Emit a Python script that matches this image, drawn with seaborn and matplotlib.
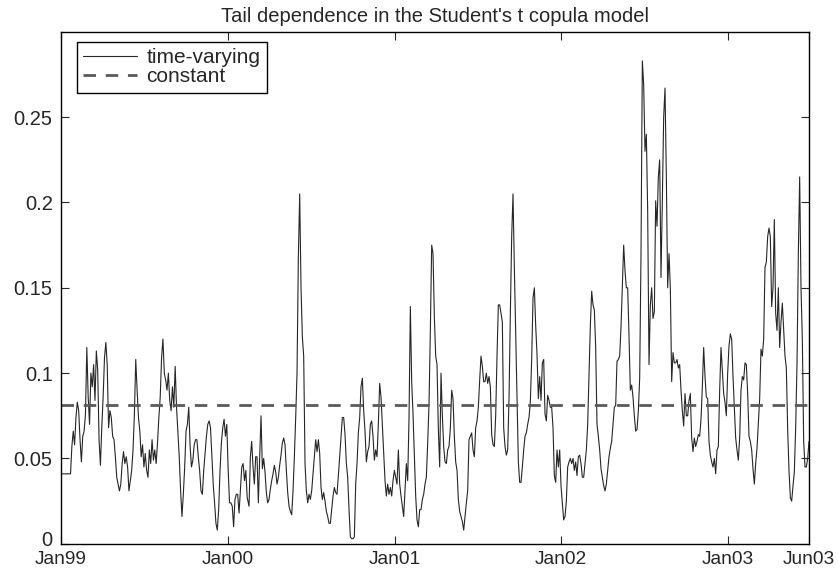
import numpy as np
import pandas as pd
import seaborn as sns
import matplotlib.pyplot as plt
import matplotlib.transforms as mtransforms

# Estimated tail dependence
# part 1: Jan 1999 -> mid Feb 2000
tail_part1 = [
    0.041, 0.041, 0.041, 0.041, 0.041, 0.041, 0.041, 0.041,
    0.057, 0.066, 0.058, 0.074, 0.083, 0.078, 0.061, 0.048, 0.063, 0.066,
    0.076, 0.115, 0.086, 0.070, 0.100, 0.092, 0.105, 0.084, 0.113, 0.102,
    0.061, 0.046, 0.068, 0.086, 0.109, 0.118, 0.105, 0.068, 0.078, 0.074,
    0.063, 0.061, 0.051, 0.039, 0.035, 0.031, 0.035, 0.047, 0.054, 0.047,
    0.051, 0.045, 0.031, 0.037, 0.043, 0.055, 0.076, 0.108, 0.090, 0.074,
    0.066, 0.051, 0.058, 0.045, 0.053, 0.043, 0.039, 0.055, 0.047, 0.061,
    0.049, 0.055, 0.047, 0.059, 0.074, 0.086, 0.109, 0.120, 0.100, 0.096,
    0.090, 0.100, 0.084, 0.078, 0.092, 0.080, 0.104, 0.080, 0.066, 0.051,
    0.031, 0.016, 0.029, 0.045, 0.066, 0.070, 0.080, 0.057, 0.045, 0.049,
    0.058, 0.061, 0.061, 0.051, 0.043, 0.031, 0.029, 0.043, 0.053, 0.063,
    0.070, 0.072, 0.068, 0.051, 0.035, 0.024, 0.012, 0.008, 0.020, 0.043,
    0.059, 0.068, 0.073, 0.063, 0.070, 0.043, 0.024, 0.024, 0.022, 0.010,
    0.026, 0.029, 0.029, 0.018, 0.031, 0.045, 0.047, 0.037, 0.043, 0.027,
]

# part 2: mid Feb 2000 -> end of June 2003
tail_part2 = [
    0.022, 0.051, 0.060, 0.045, 0.035, 0.051, 0.051, 0.024, 0.051, 0.075,
    0.044, 0.050, 0.042, 0.030, 0.024, 0.026, 0.032, 0.037, 0.041, 0.046,
    0.042, 0.035, 0.039, 0.046, 0.052, 0.059, 0.062, 0.058, 0.043, 0.030,
    0.022, 0.019, 0.017, 0.031, 0.051, 0.074, 0.100, 0.168, 0.205, 0.150,
    0.121, 0.110, 0.047, 0.031, 0.024, 0.029, 0.026, 0.031, 0.041, 0.051,
    0.061, 0.054, 0.061, 0.053, 0.033, 0.026, 0.030, 0.025, 0.019, 0.016,
    0.012, 0.012, 0.020, 0.028, 0.033, 0.030, 0.029, 0.040, 0.051, 0.063,
    0.074, 0.074, 0.064, 0.047, 0.039, 0.020, 0.004, 0.003, 0.003, 0.004,
    0.035, 0.047, 0.065, 0.074, 0.092, 0.097, 0.078, 0.066, 0.048, 0.054,
    0.057, 0.070, 0.072, 0.063, 0.049, 0.055, 0.051, 0.070, 0.094, 0.086,
    0.070, 0.055, 0.037, 0.028, 0.035, 0.029, 0.033, 0.028, 0.037, 0.043,
    0.039, 0.035, 0.055, 0.035, 0.028, 0.022, 0.016, 0.031, 0.047, 0.037,
    0.074, 0.139, 0.095, 0.076, 0.051, 0.028, 0.014, 0.010, 0.020, 0.020,
    0.026, 0.029, 0.035, 0.039, 0.059, 0.082, 0.125, 0.175, 0.170, 0.133,
    # 2001
    0.110, 0.105, 0.067, 0.045, 0.100, 0.075, 0.057, 0.048, 0.047, 0.055,
    0.057, 0.068, 0.090, 0.085, 0.063, 0.048, 0.043, 0.026, 0.019, 0.016,
    0.013, 0.008, 0.016, 0.024, 0.031, 0.061, 0.063, 0.065, 0.055, 0.051,
    0.068, 0.072, 0.080, 0.096, 0.110, 0.104, 0.095, 0.095, 0.100, 0.094,
    0.098, 0.092, 0.064, 0.058, 0.057, 0.075, 0.110, 0.140, 0.140, 0.135,
    0.130, 0.068, 0.057, 0.052, 0.055, 0.085, 0.135, 0.180, 0.205, 0.162,
    0.125, 0.085, 0.048, 0.036, 0.036, 0.045, 0.055, 0.063, 0.065, 0.070,
    0.074, 0.083, 0.108, 0.144, 0.150, 0.128, 0.111, 0.085, 0.098, 0.084,
    0.106, 0.108, 0.076, 0.072, 0.087, 0.084,
    # 2002
    0.080, 0.080, 0.068, 0.040, 0.036, 0.055, 0.045, 0.055, 0.034, 0.024,
    0.014, 0.016, 0.025, 0.045, 0.048, 0.050, 0.047, 0.050, 0.043, 0.048,
    0.040, 0.051, 0.052, 0.047, 0.039, 0.039, 0.047, 0.055, 0.070, 0.099,
    0.128, 0.148, 0.140, 0.137, 0.115, 0.070, 0.063, 0.055, 0.044, 0.039,
    0.034, 0.031, 0.035, 0.043, 0.051, 0.056, 0.060, 0.070, 0.080, 0.081,
    0.107, 0.108, 0.110, 0.127, 0.152, 0.175, 0.160, 0.150, 0.150, 0.122,
    0.090, 0.093, 0.086, 0.075, 0.066, 0.067, 0.078, 0.097, 0.170, 0.283,
    0.269, 0.230, 0.240, 0.195, 0.105, 0.140, 0.150, 0.132, 0.136, 0.201,
    0.186, 0.215, 0.225, 0.156, 0.201, 0.250, 0.267, 0.215, 0.150, 0.170,
    # late 2002 -> 2003
    0.150, 0.095, 0.112, 0.106, 0.106, 0.108, 0.103, 0.105, 0.090, 0.078,
    0.069, 0.088, 0.075, 0.075, 0.084, 0.088, 0.062, 0.054, 0.062, 0.057,
    0.060, 0.064, 0.063, 0.073, 0.092, 0.115, 0.098, 0.086, 0.085, 0.060,
    0.052, 0.048, 0.045, 0.050, 0.041, 0.055, 0.057, 0.090, 0.115, 0.102,
    0.088, 0.083, 0.075, 0.100, 0.116, 0.123, 0.120, 0.098, 0.080, 0.062,
    0.055, 0.049, 0.062, 0.090, 0.098, 0.096, 0.106, 0.105, 0.088, 0.063,
    0.060, 0.055, 0.044, 0.035, 0.047, 0.056, 0.070, 0.085, 0.114, 0.110,
    0.120, 0.162, 0.165, 0.180, 0.185, 0.180, 0.139, 0.150, 0.190, 0.135,
    0.125, 0.150, 0.115, 0.130, 0.141, 0.125, 0.110, 0.103, 0.067, 0.043,
    0.027, 0.025, 0.034, 0.042, 0.068, 0.105, 0.170,
    0.215, 0.150, 0.120, 0.060, 0.045, 0.045, 0.050, 0.060,
]

constant_tail = 0.0812

start_date = "1999-01-01"
split_dates = ("2000-02-13", "2000-02-17")
end_date = "2003-06-28"

tick_dates = ["1999-01-01", "2000-01-01", "2001-01-01", "2002-01-01", "2003-01-01", end_date]
tick_labels = ["Jan99", "Jan00", "Jan01", "Jan02", "Jan03", "Jun03"]
y_ticks = [0, 0.05, 0.1, 0.15, 0.2, 0.25]
y_labels = ["0", "0.05", "0.1", "0.15", "0.2", "0.25"]

dates = pd.date_range(start_date, split_dates[0], periods=len(tail_part1)).append(
    pd.date_range(split_dates[1], end_date, periods=len(tail_part2)))
df = pd.DataFrame({"date": dates, "tail": tail_part1 + tail_part2})

sns.set_style("ticks")
plt.rcParams["font.family"] = ["Liberation Sans", "DejaVu Sans"]

fig = plt.figure(figsize=(8.38, 5.73), dpi=100)
ax = fig.add_axes([61 / 838, 1 - 543.8 / 573, 748 / 838, 512 / 573])

sns.lineplot(data=df, x="date", y="tail", ax=ax, estimator=None,
             color="#262626", linewidth=0.8, label="time-varying")
ax.axhline(constant_tail, color="#5a5a5a", linewidth=2.0,
           linestyle=(0, (4.5, 3.5)), label="constant")

ax.set_xlim(pd.Timestamp(start_date), pd.Timestamp(end_date))
ax.set_ylim(0, 0.3)
ax.set_xticks(pd.to_datetime(tick_dates))
ax.set_xticklabels(tick_labels)
ax.set_yticks(y_ticks)
ax.set_yticklabels(y_labels)
ax.set_xlabel("")
ax.set_ylabel("")
ax.tick_params(direction="in", length=6, width=0.8, top=True, right=True,
               labelsize=14.5)
ax.tick_params(axis="y", pad=6)
ax.tick_params(axis="x", pad=5.5, labelsize=13.8)
for sp in ax.spines.values():
    sp.set_linewidth(1.0)
    sp.set_color("black")

# lift the "0" label a little so it sits just above "Jan99"
zero_lab = ax.get_yticklabels()[0]
zero_lab.set_transform(zero_lab.get_transform()
                       + mtransforms.ScaledTranslation(0, 4 / 72, fig.dpi_scale_trans))

ax.set_title("Tail dependence in the Student's t copula model", fontsize=14.5, pad=7)

leg = ax.legend(loc="upper left", bbox_to_anchor=(0.021, 0.98), borderaxespad=0,
                fontsize=15, fancybox=False, framealpha=1, edgecolor="black",
                handlelength=2.6, handletextpad=0.45, borderpad=0.3, labelspacing=0.0)
leg.get_frame().set_linewidth(1.0)

fig.savefig("out.png", dpi=100)
